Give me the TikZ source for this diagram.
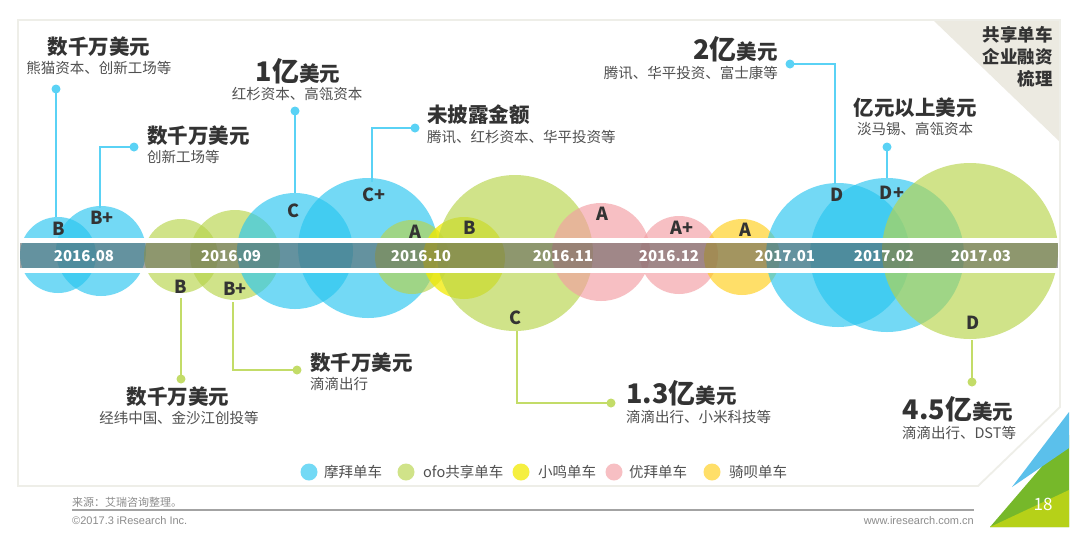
\documentclass[tikz,border=0pt]{standalone}
\usepackage{fontspec}
\setmainfont{Noto Sans CJK SC}
\newfontfamily\latinf{Liberation Sans}
\definecolor{mobike}{HTML}{29C6F0}
\definecolor{ofo}{HTML}{B7D44B}
\definecolor{xiaoming}{HTML}{F2EA00}
\definecolor{youbai}{HTML}{F39EA3}
\definecolor{qibei}{HTML}{FFCE1A}
\definecolor{bline}{HTML}{5AD2F5}
\definecolor{gline}{HTML}{C3DC68}
\definecolor{txtdark}{HTML}{333333}
\definecolor{txtsub}{HTML}{505050}
\definecolor{framec}{HTML}{EEEEE8}
\definecolor{beige}{HTML}{ECEAE1}
\definecolor{cornerblue}{HTML}{5BC0EB}
\definecolor{cornergreen}{HTML}{76B82A}
\definecolor{corneryg}{HTML}{B6D118}
\definecolor{footgray}{HTML}{8C8C8C}
\begin{document}
\begin{tikzpicture}[x=1pt,y=-1pt,
  bubble/.style={circle, inner sep=0pt, draw=none, fill opacity=0.65},
  letter/.style={inner sep=0pt, text=txtdark, font=\fontsize{18}{20}\selectfont\bfseries},
  datelbl/.style={inner sep=0pt, text=white, font=\fontsize{15}{17}\selectfont\bfseries},
  head/.style={inner sep=0pt, text=txtdark, font=\fontsize{20.5}{24}\selectfont\bfseries},
  sub/.style={inner sep=0pt, text=txtsub, font=\fontsize{14.5}{17}\selectfont},
  bconn/.style={draw=bline, line width=2.3pt},
  gconn/.style={draw=gline, line width=2.3pt},
  bdot/.style={circle, fill=bline, inner sep=0pt, minimum size=9pt},
  gdot/.style={circle, fill=gline, inner sep=0pt, minimum size=9pt},
  legdot/.style={circle, inner sep=0pt, minimum size=17pt, fill opacity=0.65},
  legtxt/.style={inner sep=0pt, anchor=west, text=txtsub, font=\fontsize{14.5}{17}\selectfont},
  titletxt/.style={inner sep=0pt, anchor=east, text=txtdark, font=\fontsize{17.5}{20}\selectfont\bfseries},
  foot/.style={inner sep=0pt, text=footgray, font=\fontsize{11}{13}\selectfont}
]
\useasboundingbox (0,0) rectangle (1080,542);
\fill[white] (0,0) rectangle (1080,542);

% frame and title corner
\fill[beige] (933,20) -- (1060,20) -- (1060,142) -- cycle;
\draw[framec, line width=1.8pt] (18,20) -- (1060,20) -- (1060,407) -- (978,486) -- (18,486) -- cycle;
\node[titletxt] (t1) at (1053,35) {共享单车};
\node[titletxt] (t2) at (1053,57) {企业融资};
\node[titletxt] (t3) at (1053,79) {梳理};

% bubbles
\node[bubble, fill=mobike, minimum size=76pt] (c1) at (58,255) {};
\node[bubble, fill=mobike, minimum size=90pt] (c2) at (101,251) {};
\node[bubble, fill=ofo, minimum size=74pt] (c3) at (181,256) {};
\node[bubble, fill=ofo, minimum size=90pt] (c4) at (235,255) {};
\node[bubble, fill=mobike, minimum size=116pt] (c5) at (295,251) {};
\node[bubble, fill=mobike, minimum size=140pt] (c6) at (368,248) {};
\node[bubble, fill=ofo, minimum size=74pt] (c7) at (412,257) {};
\node[bubble, fill=xiaoming, fill opacity=0.75, minimum size=82pt] (c8) at (464,258) {};
\node[bubble, fill=ofo, minimum size=156pt] (c9) at (515,253) {};
\node[bubble, fill=youbai, minimum size=98pt] (c10) at (601,252) {};
\node[bubble, fill=youbai, minimum size=78pt] (c11) at (679,255) {};
\node[bubble, fill=qibei, minimum size=76pt] (c12) at (742,257) {};
\node[bubble, fill=mobike, minimum size=144pt] (c13) at (838,255) {};
\node[bubble, fill=mobike, minimum size=154pt] (c14) at (887,255) {};
\node[bubble, fill=ofo, minimum size=176pt] (c15) at (970,251) {};

% timeline bar
\fill[white] (20,237.5) rectangle (1058,243);
\fill[white] (20,268) rectangle (1058,273);
\fill[black!65, fill opacity=0.55] (20,243) rectangle (1058,268);
\node[datelbl] (d1) at (84,256) {2016.08};
\node[datelbl] (d2) at (231,256) {2016.09};
\node[datelbl] (d3) at (421,256) {2016.10};
\node[datelbl] (d4) at (563,256) {2016.11};
\node[datelbl] (d5) at (669,256) {2016.12};
\node[datelbl] (d6) at (785,256) {2017.01};
\node[datelbl] (d7) at (884,256) {2017.02};
\node[datelbl] (d8) at (981,256) {2017.03};

% round letters
\node[letter] (l1) at (59,229) {B};
\node[letter] (l2) at (102,218) {B+};
\node[letter] (l3) at (181,287) {B};
\node[letter] (l4) at (235,289) {B+};
\node[letter] (l5) at (294,211) {C};
\node[letter] (l6) at (374,195) {C+};
\node[letter] (l7) at (415,232) {A};
\node[letter] (l8) at (470,228) {B};
\node[letter] (l9) at (515,318) {C};
\node[letter] (l10) at (602,214) {A};
\node[letter] (l11) at (682,228) {A+};
\node[letter] (l12) at (745,230) {A};
\node[letter] (l13) at (837,195) {D};
\node[letter] (l14) at (892,193) {D+};
\node[letter] (l15) at (973,323) {D};

% connector end points
\coordinate (e1) at (56,217);
\coordinate (e2) at (100,208);
\coordinate (e5) at (295,193);
\coordinate (e6) at (372,182);
\coordinate (e13) at (835,184);
\coordinate (e14) at (887,178);
\coordinate (e3) at (181,298);
\coordinate (e4) at (233,302);
\coordinate (e9) at (517,331);
\coordinate (e15) at (972,340);

% dots
\node[bdot] (p1) at (56,89) {};
\node[bdot] (p2) at (134,147) {};
\node[bdot] (p5) at (295,111) {};
\node[bdot] (p6) at (415,128) {};
\node[bdot] (p13) at (790,64) {};
\node[bdot] (p14) at (887,147) {};
\node[gdot] (p3) at (181,379) {};
\node[gdot] (p4) at (297,370) {};
\node[gdot] (p9) at (611,403) {};
\node[gdot] (p15) at (972,382) {};

% connectors
\draw[bconn] (p1.center) -- (e1);
\draw[bconn] (p2.center) -| (e2);
\draw[bconn] (p5.center) -- (e5);
\draw[bconn] (p6.center) -| (e6);
\draw[bconn] (p13.center) -| (e13);
\draw[bconn] (p14.center) -- (e14);
\draw[gconn] (p3.center) -- (e3);
\draw[gconn] (p4.center) -| (e4);
\draw[gconn] (p9.center) -| (e9);
\draw[gconn] (p15.center) -- (e15);

% top labels
\node[head] (h1) at (99,47) {数千万美元};
\node[sub] (s1) at (99,68) {熊猫资本、创新工场等};
\node[head, anchor=west] (h2) at (147,136) {数千万美元};
\node[sub, anchor=west] (s2) at (147,157) {创新工场等};
\node[head] (h3) at (298,71) {{\fontsize{27}{30}\selectfont 1亿}美元};
\node[sub] (s3) at (297,94) {红杉资本、高瓴资本};
\node[head, anchor=west] (h4) at (427,115) {未披露金额};
\node[sub, anchor=west] (s4) at (427,137) {腾讯、红杉资本、华平投资等};
\node[head, anchor=east] (h5) at (778,49) {{\fontsize{27}{30}\selectfont 2亿}美元};
\node[sub, anchor=east] (s5) at (778,73) {腾讯、华平投资、富士康等};
\node[head] (h6) at (915,108) {亿元以上美元};
\node[sub] (s6) at (915,129) {淡马锡、高瓴资本};

% bottom labels
\node[head] (h7) at (178,397) {数千万美元};
\node[sub] (s7) at (179,418) {经纬中国、金沙江创投等};
\node[head, anchor=west] (h8) at (310,363) {数千万美元};
\node[sub, anchor=west] (s8) at (310,384) {滴滴出行};
\node[head, anchor=west] (h9) at (626,393) {{\fontsize{27}{30}\selectfont 1.3亿}美元};
\node[sub, anchor=west] (s9) at (626,417) {滴滴出行、小米科技等};
\node[head] (h10) at (958,409) {{\fontsize{27}{30}\selectfont 4.5亿}美元};
\node[sub] (s10) at (959,433) {滴滴出行、DST等};

% legend
\node[legdot, fill=mobike] (g1) at (309,472) {};
\node[legtxt] (gt1) at (324,472) {摩拜单车};
\node[legdot, fill=ofo] (g2) at (406,472) {};
\node[legtxt] (gt2) at (423,472) {ofo共享单车};
\node[legdot, fill=xiaoming, fill opacity=0.75] (g3) at (521,472) {};
\node[legtxt] (gt3) at (538,472) {小鸣单车};
\node[legdot, fill=youbai] (g4) at (614,472) {};
\node[legtxt] (gt4) at (629,472) {优拜单车};
\node[legdot, fill=qibei] (g5) at (712,472) {};
\node[legtxt] (gt5) at (729,472) {骑呗单车};

% footer
\node[foot, anchor=west] (f1) at (72,502) {来源：艾瑞咨询整理。};
\draw[footgray!80, line width=1.2pt] (72,510) -- (974,510);
\node[foot, anchor=west, font=\latinf\fontsize{11}{13}\selectfont] (f2) at (72,521) {©2017.3 iResearch Inc.};
\node[foot, anchor=east, font=\latinf\fontsize{11}{13}\selectfont] (f3) at (974,521) {www.iresearch.com.cn};

% page corner
\fill[cornergreen] (990,527) -- (1069,527) -- (1069,435) -- cycle;
\fill[corneryg] (990,527) -- (1069,527) -- (1069,490) -- cycle;
\fill[cornerblue] (1069,412) -- (1012,487) -- (1069,448) -- cycle;
\node[inner sep=0pt, text=white, font=\fontsize{17}{19}\selectfont] (pg) at (1043,504) {18};
\end{tikzpicture}
\end{document}
